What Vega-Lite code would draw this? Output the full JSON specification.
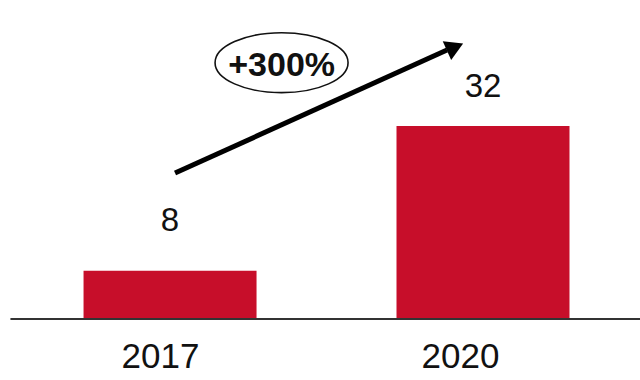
{
  "$schema": "https://vega.github.io/schema/vega-lite/v6.json",
  "width": 640,
  "height": 319,
  "autosize": {"type": "none"},
  "padding": {"left": 0, "top": 0, "right": 0, "bottom": 61},
  "background": "white",
  "config": {"view": {"stroke": null}, "font": "Liberation Sans"},
  "layer": [
    {
      "data": {"values": [{"year": 2017, "value": 8}, {"year": 2020, "value": 32}]},
      "mark": {"type": "bar", "width": 173, "color": "#C70E2A"},
      "encoding": {
        "x": {
          "field": "year", "type": "quantitative",
          "scale": {"domain": [2015.37, 2021.505], "nice": false, "zero": false, "padding": 0},
          "axis": {
            "values": [2017, 2020], "format": "d", "title": null,
            "ticks": false, "domain": false, "grid": false,
            "labelFont": "Liberation Sans", "labelFontSize": 35, "labelColor": "#111111",
            "labelPadding": 20,
            "labelOffset": {"condition": {"test": "datum.value == 2017", "value": -10}, "value": -23}
          }
        },
        "y": {
          "field": "value", "type": "quantitative",
          "scale": {"domain": [0, 52.9], "nice": false},
          "axis": null
        }
      }
    },
    {
      "data": {"values": [{"year": 2017, "value": 8}, {"year": 2020, "value": 32}]},
      "mark": {"type": "text", "fontSize": 33, "font": "Liberation Sans", "color": "#111111", "baseline": "alphabetic", "dy": {"expr": "datum.value < 20 ? -40 : -29"}},
      "encoding": {
        "x": {"field": "year", "type": "quantitative"},
        "y": {"field": "value", "type": "quantitative"},
        "text": {"field": "value", "type": "quantitative"}
      }
    },
    {
      "data": {"values": [{}]},
      "mark": {"type": "rule", "color": "#333333", "strokeWidth": 2},
      "encoding": {
        "x": {"datum": 2015.47},
        "x2": {"datum": 2021.505},
        "y": {"datum": 0}
      }
    },
    {
      "data": {"values": [{"x": 2017.048, "y": 24.2, "x2": 2019.655, "y2": 44.6}]},
      "mark": {"type": "rule", "color": "#000000", "strokeWidth": 5, "strokeCap": "butt"},
      "encoding": {
        "x": {"field": "x", "type": "quantitative"},
        "y": {"field": "y", "type": "quantitative"},
        "x2": {"field": "x2"},
        "y2": {"field": "y2"}
      }
    },
    {
      "data": {"values": [{"x": 2019.732, "y": 45.1}]},
      "mark": {"type": "point", "shape": "triangle-right", "filled": true, "color": "#000000", "size": 420, "angle": -24.3, "opacity": 1},
      "encoding": {
        "x": {"field": "x", "type": "quantitative"},
        "y": {"field": "y", "type": "quantitative"}
      }
    },
    {
      "data": {"values": [{"x": 2018.069, "y": 42.5}]},
      "mark": {
        "type": "point",
        "shape": "M -1 0 C -1 -0.2485 -0.5523 -0.45 0 -0.45 C 0.5523 -0.45 1 -0.2485 1 0 C 1 0.2485 0.5523 0.45 0 0.45 C -0.5523 0.45 -1 0.2485 -1 0 Z",
        "filled": false, "stroke": "#111111", "strokeWidth": 1.6, "size": 17689, "opacity": 1
      },
      "encoding": {
        "x": {"field": "x", "type": "quantitative"},
        "y": {"field": "y", "type": "quantitative"}
      }
    },
    {
      "data": {"values": [{"x": 2018.07, "y": 40.35, "label": "+300%"}]},
      "mark": {"type": "text", "fontSize": 34, "fontWeight": "bold", "font": "Liberation Sans", "color": "#111111", "baseline": "alphabetic"},
      "encoding": {
        "x": {"field": "x", "type": "quantitative"},
        "y": {"field": "y", "type": "quantitative"},
        "text": {"field": "label"}
      }
    }
  ]
}
